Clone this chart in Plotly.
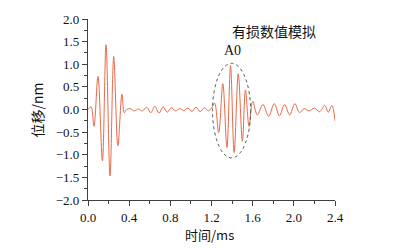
import plotly.graph_objects as go

# extrema of the displacement signal (time in ms, displacement in nm)
t_ms = [0.0, 0.03, 0.058, 0.097, 0.14, 0.175, 0.214, 0.25, 0.29, 0.33, 0.352, 0.375, 0.41,
        0.45, 0.49, 0.53, 0.57, 0.61, 0.65, 0.69, 0.73, 0.77, 0.81, 0.85, 0.89, 0.93,
        0.97, 1.01, 1.05, 1.09, 1.13, 1.17, 1.20,
        1.23, 1.27, 1.31, 1.35, 1.385, 1.42, 1.46, 1.50, 1.53, 1.565, 1.60,
        1.645, 1.70, 1.755, 1.81, 1.86, 1.91, 1.96, 2.01, 2.055, 2.10, 2.15, 2.20,
        2.25, 2.30, 2.335, 2.37, 2.40]
disp_nm = [0.0, 0.06, -0.37, 0.73, -1.13, 1.43, -1.47, 1.17, -0.80, 0.34, -0.07, 0.0, 0.02,
           -0.03, 0.01, -0.03, 0.05, -0.07, 0.07, -0.08, 0.06, -0.06, 0.04, -0.03, 0.02, -0.02,
           0.03, -0.04, 0.05, -0.05, 0.04, -0.03, 0.03,
           0.14, -0.51, 0.57, -0.84, 0.97, -0.95, 0.79, -0.70, 0.43, -0.37, 0.18,
           -0.12, 0.11, -0.15, 0.13, -0.14, 0.11, -0.12, 0.13, -0.07, 0.02, -0.03, 0.03,
           -0.05, 0.09, -0.06, 0.09, -0.25]

x_ticks = [0.0, 0.4, 0.8, 1.2, 1.6, 2.0, 2.4]
y_ticks = [2.0, 1.5, 1.0, 0.5, 0.0, -0.5, -1.0, -1.5, -2.0]

x_labels = [f"{v:.1f}" for v in x_ticks]
y_labels = [f"{v:.1f}".replace("-", "\u2212") for v in y_ticks]

serif = "Liberation Serif, Times New Roman, serif"
cjk = "Noto Sans CJK SC, sans-serif"

fig = go.Figure()
fig.add_trace(go.Scatter(x=t_ms, y=disp_nm, mode="lines",
                         line=dict(color="#E8694A", width=1, shape="spline", smoothing=1.0),
                         showlegend=False, hoverinfo="skip"))

axis_common = dict(showline=True, linecolor="#404040", linewidth=1.3, ticks="outside",
                   ticklen=5, tickwidth=1.2, tickcolor="#404040", showgrid=False,
                   zeroline=False, tickfont=dict(family=serif, size=13, color="#111"))

fig.update_xaxes(range=[0, 2.4], tickvals=x_ticks, ticktext=x_labels,
                 minor=dict(ticks="outside", ticklen=3, dtick=0.2, tick0=0, tickcolor="#404040"),
                 **axis_common)
fig.update_yaxes(range=[-2, 2], tickvals=y_ticks, ticktext=y_labels,
                 minor=dict(ticks="outside", ticklen=3, dtick=0.25, tick0=0, tickcolor="#404040"),
                 **axis_common)

fig.add_shape(type="circle", xref="x", yref="y", x0=1.21, x1=1.58, y0=-1.07, y1=1.02,
              line=dict(color="#555", width=1, dash="dot"))

ann = dict(showarrow=False, xanchor="center", yanchor="middle", borderpad=0)
fig.add_annotation(text="有损数值模拟", xref="paper", yref="paper", x=0.753, y=0.935,
                   font=dict(family=cjk, size=14, color="#111"), **ann)
fig.add_annotation(text="A0", xref="x", yref="y", x=1.40, y=1.30,
                   font=dict(family=serif, size=14, color="#111"), **ann)
fig.add_annotation(text="时间/ms", xref="paper", yref="paper", x=0.49, y=-0.19,
                   font=dict(family=cjk, size=13, color="#111"), **ann)
fig.add_annotation(text="位移/nm", xref="paper", yref="paper", x=-0.2065, y=0.5,
                   textangle=-90, font=dict(family=cjk, size=14, color="#111"), **ann)

fig.update_layout(width=394, height=250, margin=dict(l=88, r=59, t=16, b=50),
                  plot_bgcolor="white", paper_bgcolor="white")

fig.write_html("out.html")
